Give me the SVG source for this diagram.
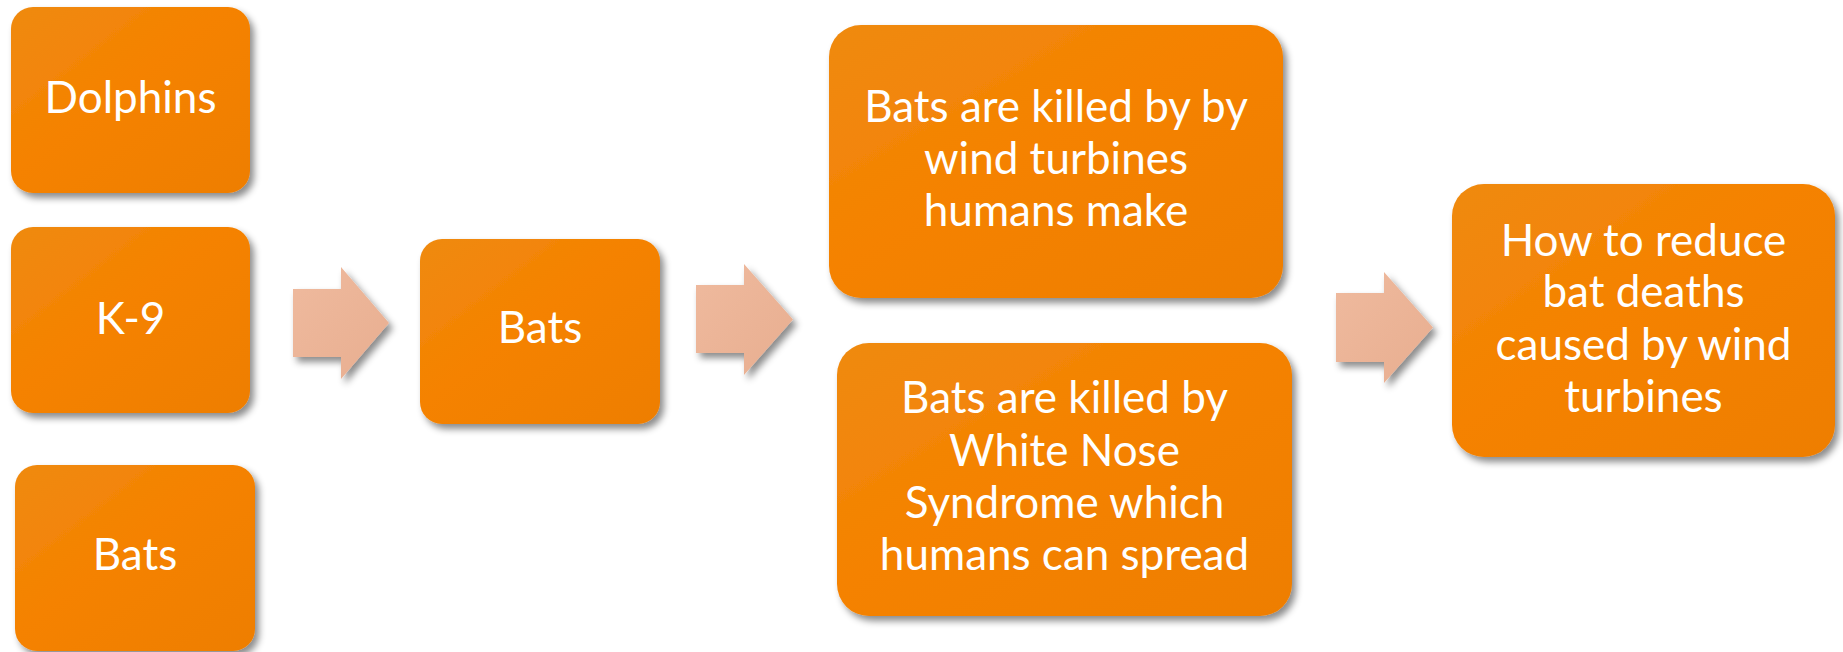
<svg xmlns="http://www.w3.org/2000/svg" width="1843" height="652" viewBox="0 0 1843 652">
<defs>
<linearGradient id="boxg" x1="0" y1="0" x2="1" y2="1">
<stop offset="0" stop-color="#EF8A12"/>
<stop offset="0.45" stop-color="#F58200"/>
<stop offset="1" stop-color="#EE7E00"/>
</linearGradient>
<linearGradient id="arrg" x1="0" y1="0" x2="1" y2="1">
<stop offset="0" stop-color="#EFBA9E"/>
<stop offset="1" stop-color="#E8AE90"/>
</linearGradient>
<filter id="sh" x="-10%" y="-10%" width="125%" height="130%">
<feDropShadow dx="4" dy="5" stdDeviation="3.5" flood-color="#000" flood-opacity="0.45"/>
</filter>
</defs>
<style>
.box{fill:url(#boxg);filter:url(#sh)}
.arr{fill:url(#arrg);filter:url(#sh)}
.t{fill:#fff;font-family:Lato,"Open Sans","Liberation Sans",sans-serif;text-anchor:middle}
.s{font-size:44px}
.m{font-size:44px}
</style>
<rect width="1843" height="652" fill="#fff"/>
<g id="connectors">
<polygon class="arr" points="293,289 341,289 341,267 389,323 341,379 341,357 293,357"/>
<polygon class="arr" points="696,285 744,285 744,264 793,319.5 744,375 744,353 696,353"/>
<polygon class="arr" points="1336,293 1384,293 1384,272 1433,327.5 1384,383 1384,362 1336,362"/>
</g>
<g id="dolphins">
<rect class="box" x="11" y="7" width="239" height="186" rx="22"/>
<text class="t s" x="130.5" y="113">Dolphins</text>
</g>
<g id="k9">
<rect class="box" x="11" y="227" width="239" height="186" rx="22"/>
<text class="t s" x="130.5" y="334">K-9</text>
</g>
<g id="bats-left">
<rect class="box" x="15" y="465" width="240" height="186" rx="22"/>
<text class="t s" x="135" y="570">Bats</text>
</g>
<g id="bats-mid">
<rect class="box" x="420" y="239" width="240" height="185" rx="22"/>
<text class="t s" x="540" y="343">Bats</text>
</g>
<g id="wind">
<rect class="box" x="829" y="25" width="454" height="273" rx="32"/>
<text class="t m" x="1056" y="122">Bats are killed by by</text>
<text class="t m" x="1056" y="174">wind turbines</text>
<text class="t m" x="1056" y="226">humans make</text>
</g>
<g id="wns">
<rect class="box" x="837" y="343" width="455" height="273" rx="32"/>
<text class="t m" x="1064.5" y="413">Bats are killed by</text>
<text class="t m" x="1064.5" y="466">White Nose</text>
<text class="t m" x="1064.5" y="518">Syndrome which</text>
<text class="t m" x="1064.5" y="570">humans can spread</text>
</g>
<g id="reduce">
<rect class="box" x="1452" y="184" width="383" height="273" rx="32"/>
<text class="t m" x="1643.5" y="256">How to reduce</text>
<text class="t m" x="1643.5" y="307">bat deaths</text>
<text class="t m" x="1643.5" y="360">caused by wind</text>
<text class="t m" x="1643.5" y="412">turbines</text>
</g>
</svg>
